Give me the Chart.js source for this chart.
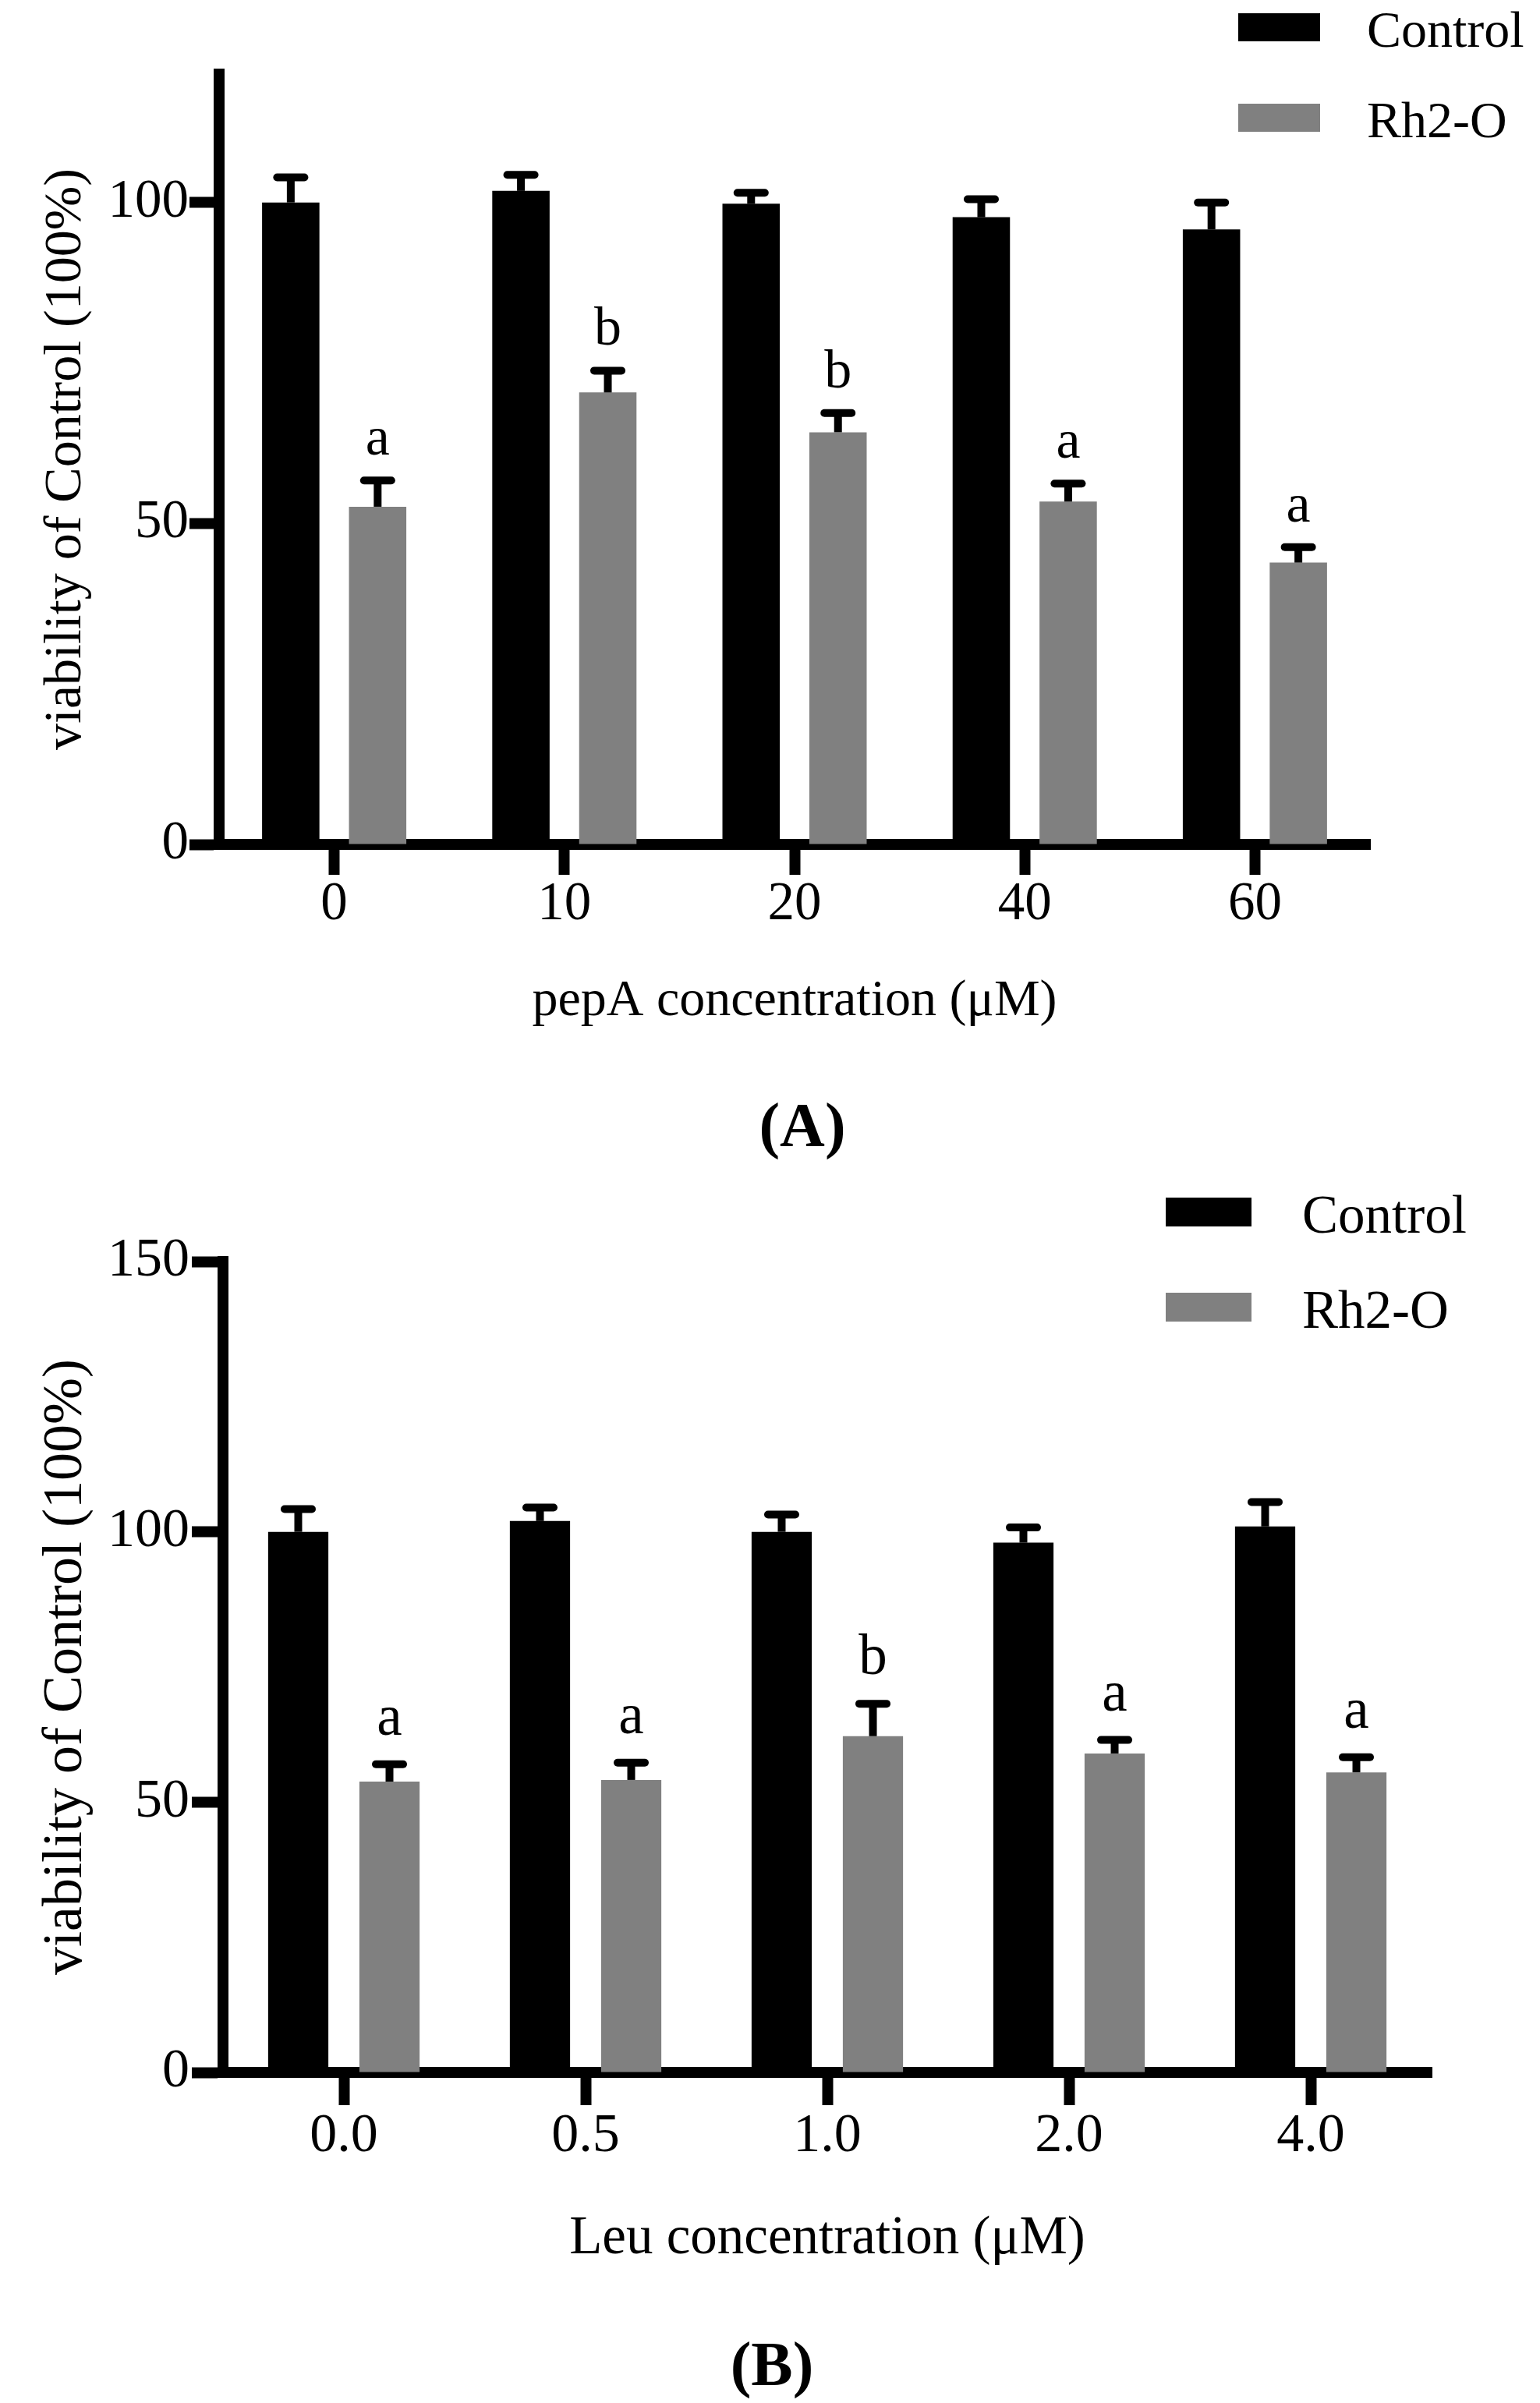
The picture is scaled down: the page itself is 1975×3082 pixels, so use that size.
<!DOCTYPE html>
<html>
<head>
<meta charset="utf-8">
<title>Cell viability – pepA and Leu</title>
<script src="https://cdn.jsdelivr.net/npm/chart.js@4.4.1/dist/chart.umd.min.js"></script>
<style>
  html, body { margin: 0; padding: 0; background: #fff; }
  body { width: 1975px; height: 3082px; position: relative; overflow: hidden; font-family: "Liberation Serif", "Times New Roman", serif; }
  canvas { position: absolute; left: 0; }
  #chartA { top: 0; width: 1975px; height: 1400px; }
  #chartB { top: 1450px; width: 1975px; height: 1510px; }
  .panel-label { position: absolute; font-weight: bold; font-size: 80px; line-height: 1; transform: translate(-50%, -50%); color: #000; }
</style>
</head>
<body>
<canvas id="chartA" width="1975" height="1400"></canvas>
<canvas id="chartB" width="1975" height="1510"></canvas>
<div class="panel-label" style="left:1029px; top:1443px;">(A)</div>
<div class="panel-label" style="left:990px; top:3032px;">(B)</div>

<script>
const SERIF = '"Liberation Serif", "Times New Roman", serif';
const seriesNames = ['Control', 'Rh2-O'];
const seriesColors = ['#000000', '#808080'];
const yTitle = 'viability of Control (100%)';

// panel A - pepA
const pepALabels = ['0', '10', '20', '40', '60'];
const pepAControl = [100, 101.8, 99.8, 97.7, 95.8];
const pepAControlErr = [3.9, 2.5, 1.7, 2.8, 4.2];
const pepARh2O = [52.6, 70.4, 64.2, 53.4, 43.9];
const pepARh2OErr = [4.1, 3.4, 3.0, 2.8, 2.4];
const pepALetters = ['a', 'b', 'b', 'a', 'a'];

// panel B - Leu
const leuLabels = ['0.0', '0.5', '1.0', '2.0', '4.0'];
const leuControl = [100, 102, 100, 98, 101];
const leuControlErr = [4.2, 2.5, 3.2, 2.8, 4.5];
const leuRh2O = [53.8, 54.1, 62.2, 59, 55.5];
const leuRh2OErr = [3.2, 3.2, 6.0, 2.5, 2.8];
const leuLetters = ['a', 'a', 'b', 'a', 'a'];

// upper error bars + significance letters
const errorLetters = {
  id: 'errorLetters',
  afterDatasetsDraw(chart, args, opts) {
    const ctx = chart.ctx;
    const y = chart.scales.y;
    chart.data.datasets.forEach((ds, di) => {
      const meta = chart.getDatasetMeta(di);
      meta.data.forEach((bar, i) => {
        const top = y.getPixelForValue(ds.data[i] + ds.errors[i]);
        ctx.save();
        ctx.strokeStyle = '#000';
        ctx.lineWidth = 10;
        ctx.beginPath();
        ctx.moveTo(bar.x, bar.y);
        ctx.lineTo(bar.x, top);
        ctx.stroke();
        ctx.lineCap = 'round';
        ctx.beginPath();
        ctx.moveTo(bar.x - 17.5, top);
        ctx.lineTo(bar.x + 17.5, top);
        ctx.stroke();
        if (ds.letters) {
          ctx.fillStyle = '#000';
          ctx.font = opts.size + 'px ' + SERIF;
          ctx.textAlign = 'center';
          ctx.textBaseline = 'alphabetic';
          ctx.fillText(ds.letters[i], bar.x, top - opts.gap);
        }
        ctx.restore();
      });
    });
  }
};

// legend in the top right corner
const cornerLegend = {
  id: 'cornerLegend',
  afterDraw(chart, args, opts) {
    const ctx = chart.ctx;
    ctx.save();
    chart.data.datasets.forEach((ds, i) => {
      const top = opts.top + i * opts.step;
      ctx.fillStyle = ds.backgroundColor;
      ctx.fillRect(opts.x, top, opts.w, opts.h);
      ctx.fillStyle = '#000';
      ctx.font = opts.size + 'px ' + SERIF;
      ctx.textAlign = 'left';
      ctx.textBaseline = 'alphabetic';
      ctx.fillText(ds.label, opts.textX, top + opts.baseline);
    });
    ctx.restore();
  }
};

function makeChart(id, cfg) {
  return new Chart(document.getElementById(id), {
    type: 'bar',
    data: {
      labels: cfg.labels,
      datasets: [
        { label: seriesNames[0], data: cfg.control, errors: cfg.controlErr, backgroundColor: seriesColors[0] },
        { label: seriesNames[1], data: cfg.rh2o, errors: cfg.rh2oErr, letters: cfg.letters, backgroundColor: seriesColors[1] }
      ]
    },
    plugins: [errorLetters, cornerLegend],
    options: {
      responsive: false,
      animation: false,
      devicePixelRatio: 1,
      layout: { padding: { top: cfg.top, right: 1975 - cfg.right, bottom: 0, left: 0 } },
      datasets: { bar: { categoryPercentage: 0.755, barPercentage: 0.66 } },
      plugins: {
        legend: { display: false },
        tooltip: { enabled: false },
        errorLetters: { size: cfg.letterSize, gap: cfg.letterGap },
        cornerLegend: cfg.legend
      },
      scales: {
        x: {
          z: 1,
          offset: true,
          grid: { offset: false, drawOnChartArea: false, drawTicks: true, tickLength: cfg.xTick, tickWidth: 14, tickColor: '#000' },
          border: { display: true, color: '#000', width: 14 },
          ticks: { color: '#000', font: { family: SERIF, size: cfg.tickSize }, padding: cfg.xPad, maxRotation: 0, autoSkip: false },
          title: {
            display: true, text: cfg.xTitle, color: '#000',
            font: { family: SERIF, size: cfg.xTitleSize, lineHeight: 1.2 },
            padding: { top: 0, bottom: cfg.xTitlePad }
          },
          afterFit: s => { s.height = cfg.height - cfg.bottom; }
        },
        y: {
          z: 1,
          min: 0,
          max: cfg.max,
          grid: { drawOnChartArea: false, drawTicks: true, tickLength: cfg.yTick, tickWidth: 14, tickColor: '#000' },
          border: { display: true, color: '#000', width: 14 },
          ticks: { stepSize: 50, includeBounds: false, color: '#000', font: { family: SERIF, size: cfg.tickSize }, padding: cfg.yPad },
          title: {
            display: true, text: yTitle, color: '#000',
            font: { family: SERIF, size: cfg.yTitleSize, lineHeight: 1.2 },
            padding: { top: cfg.yTitlePad, bottom: 0 }
          },
          afterFit: s => { s.width = cfg.left; }
        }
      }
    }
  });
}

makeChart('chartA', {
  labels: pepALabels, control: pepAControl, controlErr: pepAControlErr,
  rh2o: pepARh2O, rh2oErr: pepARh2OErr, letters: pepALetters,
  xTitle: 'pepA concentration (\u03BCM)',
  height: 1400, top: 95, bottom: 1083, left: 281, right: 1757, max: 120,
  xTick: 39, yTick: 38, xPad: -3, yPad: 1,
  tickSize: 69, xTitleSize: 66, xTitlePad: 76, yTitleSize: 68, yTitlePad: 44,
  letterSize: 70, letterGap: 33,
  legend: { x: 1588, w: 105, h: 36, top: 17, step: 116, textX: 1753, baseline: 43, size: 66 }
});

makeChart('chartB', {
  labels: leuLabels, control: leuControl, controlErr: leuControlErr,
  rh2o: leuRh2O, rh2oErr: leuRh2OErr, letters: leuLetters,
  xTitle: 'Leu concentration (\u03BCM)',
  height: 1510, top: 168, bottom: 1208, left: 286, right: 1836, max: 150,
  xTick: 42, yTick: 40, xPad: -1, yPad: 3,
  tickSize: 70, xTitleSize: 69, xTitlePad: 47, yTitleSize: 72, yTitlePad: 42,
  letterSize: 73, letterGap: 38,
  legend: { x: 1495, w: 110, h: 37, top: 86, step: 122, textX: 1670, baseline: 45, size: 69 }
});
</script>
</body>
</html>
